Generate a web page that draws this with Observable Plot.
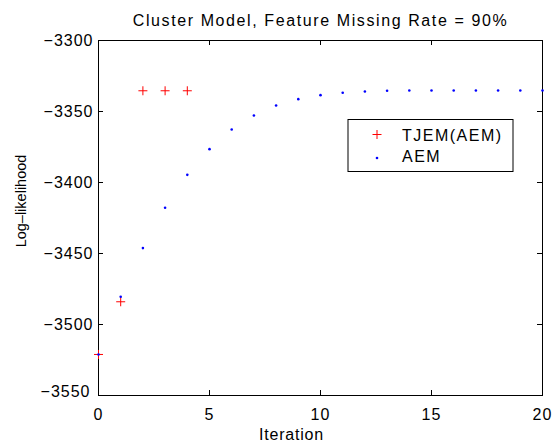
<!DOCTYPE html>
<html><head><meta charset="utf-8">
<script src="https://cdn.jsdelivr.net/npm/d3@7"></script>
<script src="https://cdn.jsdelivr.net/npm/@observablehq/plot@0.6"></script>
<style>
html,body{margin:0;padding:0;background:#fff;}
</style></head><body><div id="chart"></div>
<script>
const titleText = "Cluster Model, Feature Missing Rate = 90%";
const xLabel = "Iteration";
const yLabel = "Log–likelihood";
const seriesNames = ["TJEM(AEM)", "AEM"];
const xTicks = [0, 5, 10, 15, 20];
const yTicks = [-3500, -3450, -3400, -3350, -3300];
const yTickBottom = [-3550];
const tjemIter = [0, 1, 2, 3, 4];
const tjemLL = [-3521.1, -3484.0, -3335.4, -3335.4, -3335.4];
const aemIter = [0, 1, 2, 3, 4, 5, 6, 7, 8, 9, 10, 11, 12, 13, 14, 15, 16, 17, 18, 19, 20];
const aemLL = [-3521.1, -3480.5, -3446.2, -3417.8, -3394.6, -3376.5, -3362.7, -3352.8, -3345.8, -3341.3,
               -3338.5, -3336.8, -3335.9, -3335.4, -3335.2, -3335.2, -3335.2, -3335.2, -3335.2, -3335.2, -3335.2];

const tjem = tjemIter.map((x, i) => ({x, y: tjemLL[i]}));
const aem = aemIter.map((x, i) => ({x, y: aemLL[i]}));
const allYTicks = yTickBottom.concat(yTicks);

const W = 557, H = 441, ML = 98, MR = 15, MT = 40, MB = 46;
const TICK = 5;
const frameW = W - ML - MR, frameH = H - MT - MB;

const crossSymbol = {
  draw(context, size) {
    const r = Math.sqrt(size / Math.PI);
    context.moveTo(-r, 0); context.lineTo(r, 0);
    context.moveTo(0, -r); context.lineTo(0, r);
  }
};
const fmt = d3.format("d");

const svg = Plot.plot({
  width: W,
  height: H,
  marginLeft: ML,
  marginRight: MR,
  marginTop: MT,
  marginBottom: MB,
  style: {fontFamily: "'Liberation Sans', Arial, Helvetica, sans-serif", fontSize: "16px", background: "white", color: "black"},
  x: {domain: [0, 20]},
  y: {domain: [-3550, -3300]},
  marks: [
    Plot.frame({stroke: "black", strokeWidth: 1}),
    Plot.axisX(xTicks, {tickSize: 0, tickPadding: 13, tickFormat: fmt, label: null, fontSize: 16}),
    Plot.axisY(yTicks, {tickSize: 0, tickPadding: 5, tickFormat: fmt, label: null, fontSize: 16}),
    Plot.axisY(yTickBottom, {tickSize: 0, tickPadding: 5, tickFormat: fmt, label: null, fontSize: 16, dx: -3, dy: -4}),
    // inward ticks on all four sides
    Plot.ruleX(xTicks, {x: d => d, insetTop: frameH - TICK, stroke: "black"}),
    Plot.ruleX(xTicks, {x: d => d, insetBottom: frameH - TICK, stroke: "black"}),
    Plot.ruleY(allYTicks, {y: d => d, insetRight: frameW - TICK, stroke: "black"}),
    Plot.ruleY(allYTicks, {y: d => d, insetLeft: frameW - TICK, stroke: "black"}),
    Plot.text([titleText], {text: d => d, frameAnchor: "top", dy: -15, lineAnchor: "bottom", fontSize: 16}),
    Plot.text([xLabel], {text: d => d, frameAnchor: "bottom", dx: -29, dy: 44, lineAnchor: "bottom", fontSize: 16}),
    Plot.text([yLabel], {text: d => d, frameAnchor: "left", textAnchor: "middle", lineAnchor: "middle", dx: -77, dy: -17, rotate: -90, fontSize: 14.5}),
    Plot.dot(tjem, {x: "x", y: "y", symbol: crossSymbol, r: 4.5, fill: "none", stroke: "#ff0000", strokeWidth: 1}),
    Plot.dot(aem, {x: "x", y: "y", r: 1.3, fill: "#0000ff", stroke: "none"})
  ]
});

const s = d3.select(svg);
s.selectAll('g[aria-label="x-axis tick label"] text, g[aria-label="y-axis tick label"] text').style("letter-spacing", "1px");
s.selectAll("text").each(function() {
  const t = this.textContent;
  if (t === titleText) this.style.letterSpacing = "1.6px";
  if (t === xLabel) this.style.letterSpacing = "0.8px";
});

// legend box inside the plot area
const lg = s.append("g").attr("class", "legend").attr("text-anchor", "start");
lg.append("rect").attr("x", 348).attr("y", 119.5).attr("width", 165).attr("height", 52)
  .attr("fill", "white").attr("stroke", "black").attr("stroke-width", 1);
const p = d3.path(); crossSymbol.draw(p, Math.PI * 4.5 * 4.5);
lg.append("path").attr("d", p.toString()).attr("transform", "translate(377,134.5)")
  .attr("fill", "none").attr("stroke", "#ff0000").attr("stroke-width", 1);
lg.append("circle").attr("cx", 377).attr("cy", 158).attr("r", 1.3).attr("fill", "#0000ff");
lg.append("text").attr("x", 402).attr("y", 140.5).attr("text-anchor", "start").text(seriesNames[0])
  .style("font-size", "16px").style("letter-spacing", "1.5px").attr("fill", "black");
lg.append("text").attr("x", 402).attr("y", 161.5).attr("text-anchor", "start").text(seriesNames[1])
  .style("font-size", "16px").style("letter-spacing", "1.5px").attr("fill", "black");

document.getElementById("chart").appendChild(svg);
</script></body></html>
